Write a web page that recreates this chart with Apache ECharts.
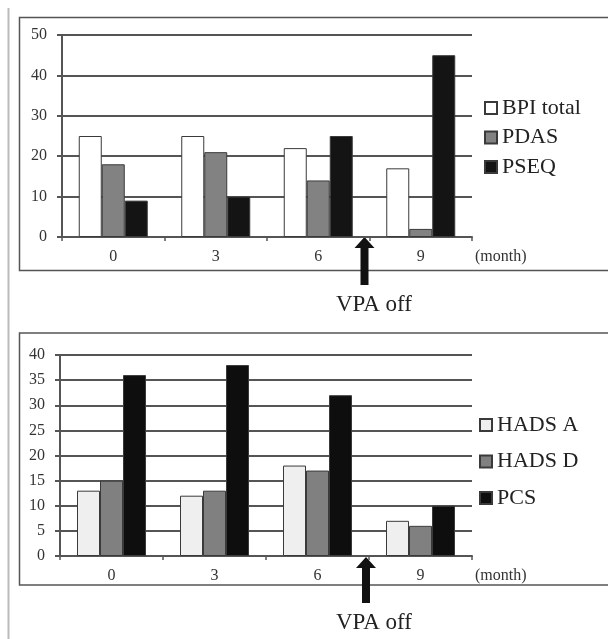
<!DOCTYPE html>
<html>
<head>
<meta charset="utf-8">
<script src="https://cdn.jsdelivr.net/npm/echarts@6/dist/echarts.min.js"></script>
<style>
	html, body { margin: 0; padding: 0; background: #fff; }
	#main { width: 608px; height: 639px; }
</style>
</head>
<body>
<div id="main"></div>
<script>
	// data
	var months = ['0', '3', '6', '9'];
	var bpiTotal = [25, 25, 22, 17];
	var pdas = [18, 21, 14, 2];
	var pseq = [9, 10, 25, 45];
	var hadsA = [13, 12, 18, 7];
	var hadsD = [15, 13, 17, 6];
	var pcs = [36, 38, 32, 10];

	var fontFamily = '"Liberation Serif", "Times New Roman", serif';
	var lineColor = '#555';

	function makeXAxis(gridIndex){
		return {
			type: 'category',
			gridIndex: gridIndex,
			data: months,
			name: '(month)',
			nameLocation: 'end',
			nameGap: 3,
			nameTextStyle: { fontFamily: fontFamily, fontSize: 16, color: '#333', verticalAlign: 'top', padding: [12, 0, 0, 0] },
			axisLine: { lineStyle: { color: lineColor, width: 2 } },
			axisTick: { show: true, alignWithLabel: false, length: 4, lineStyle: { color: lineColor, width: 1.5 } },
			axisLabel: { fontFamily: fontFamily, fontSize: 16, color: '#333', margin: 12 }
		};
	}

	function makeYAxis(gridIndex, max, interval){
		return {
			type: 'value',
			gridIndex: gridIndex,
			min: 0,
			max: max,
			interval: interval,
			axisLine: { show: true, lineStyle: { color: lineColor, width: 2 } },
			axisTick: { show: true, inside: false, length: 5, lineStyle: { color: lineColor, width: 2 } },
			splitLine: { show: true, lineStyle: { color: lineColor, width: 2 } },
			axisLabel: { fontFamily: fontFamily, fontSize: 16, color: '#333', margin: 15 }
		};
	}

	function makeBar(name, data, color, index){
		return {
			name: name,
			type: 'bar',
			xAxisIndex: index,
			yAxisIndex: index,
			data: data,
			barWidth: 23,
			barGap: '0%',
			itemStyle: { color: color, borderColor: '#3a3a3a', borderWidth: 1 },
			emphasis: { disabled: true }
		};
	}

	function makeLegend(names, left, top, gap){
		return {
			data: names,
			orient: 'vertical',
			left: left,
			top: top,
			padding: 0,
			icon: 'rect',
			itemWidth: 12,
			itemHeight: 12,
			itemGap: gap,
			selectedMode: false,
			textStyle: { fontFamily: fontFamily, fontSize: 22, color: '#222' }
		};
	}

	function arrow(tipX, tipY, bottomY){
		return {
			type: 'polygon',
			silent: true,
			shape: { points: [
				[tipX, tipY], [tipX + 10, tipY + 11], [tipX + 4, tipY + 11], [tipX + 4, bottomY],
				[tipX - 4, bottomY], [tipX - 4, tipY + 11], [tipX - 10, tipY + 11]
			] },
			style: { fill: '#111' }
		};
	}

	function vpaText(x, y){
		return {
			type: 'text',
			silent: true,
			x: x,
			y: y,
			style: { text: 'VPA off', font: '23px ' + fontFamily, fill: '#222', align: 'center', verticalAlign: 'middle' }
		};
	}

	var chart = echarts.init(document.getElementById('main'));

	var option = {
		animation: false,
		backgroundColor: '#fff',
		grid: [
			{ left: 62, right: 136, top: 35, height: 202 },
			{ left: 60, right: 136, top: 355, height: 201 }
		],
		legend: [
			makeLegend(['BPI total', 'PDAS', 'PSEQ'], 484, 97, 7.5),
			makeLegend(['HADS A', 'HADS D', 'PCS'], 479, 414, 14.5)
		],
		xAxis: [makeXAxis(0), makeXAxis(1)],
		yAxis: [makeYAxis(0, 50, 10), makeYAxis(1, 40, 5)],
		series: [
			makeBar('BPI total', bpiTotal, '#ffffff', 0),
			makeBar('PDAS', pdas, '#828282', 0),
			makeBar('PSEQ', pseq, '#141414', 0),
			makeBar('HADS A', hadsA, '#efefef', 1),
			makeBar('HADS D', hadsD, '#808080', 1),
			makeBar('PCS', pcs, '#0e0e0e', 1)
		],
		graphic: [
			// page edge line
			{ type: 'line', silent: true, shape: { x1: 8.5, y1: 8, x2: 8.5, y2: 639 }, style: { stroke: '#bbb', lineWidth: 2 } },
			// frames
			{ type: 'rect', silent: true, shape: { x: 19.5, y: 17.5, width: 600, height: 253 }, style: { fill: null, stroke: '#555', lineWidth: 1.5 } },
			{ type: 'rect', silent: true, shape: { x: 19.5, y: 333, width: 600, height: 252 }, style: { fill: null, stroke: '#555', lineWidth: 1.5 } },
			arrow(364.5, 237, 285),
			arrow(366, 557, 603),
			vpaText(374, 305),
			vpaText(374, 623)
		]
	};

	chart.setOption(option);
</script>
</body>
</html>
